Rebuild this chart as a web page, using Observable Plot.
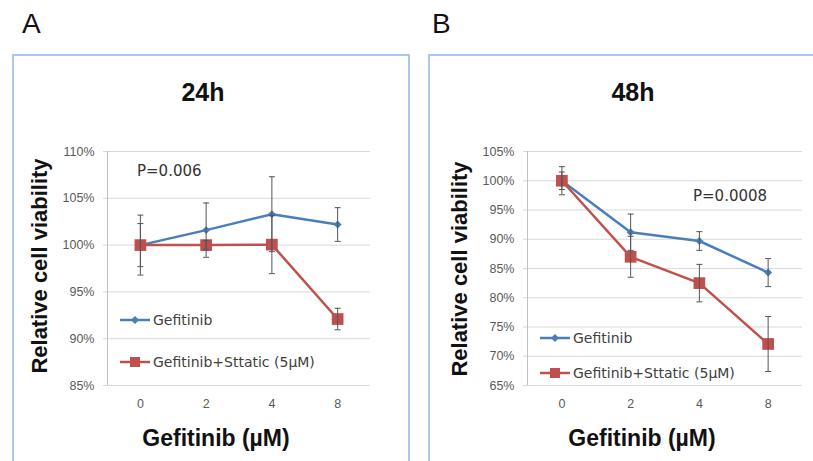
<!DOCTYPE html>
<html><head><meta charset="utf-8">
<script src="https://cdn.jsdelivr.net/npm/d3@7"></script>
<script src="https://cdn.jsdelivr.net/npm/@observablehq/plot@0.6"></script>
<style>
html,body{margin:0;padding:0;background:#fff;}
#wrap{position:relative;width:813px;height:461px;overflow:hidden;background:#fff;}
#wrap svg{position:absolute;top:0;}
</style></head><body><div id="wrap"></div>
<script>
// ---- data ----
const doses = ["0", "2", "4", "8"];
const seriesNames = ["Gefitinib", "Gefitinib+Sttatic (5µM)"];
const gef24 = [100, 101.6, 103.3, 102.2];
const gef24Err = [3.2, 2.9, 4.0, 1.8];
const stt24 = [100, 100, 100.05, 92.1];
const stt24Err = [2.3, 0.5, 3.1, 1.15];
const gef48 = [100, 91.2, 89.7, 84.3];
const gef48Err = [1.5, 3.1, 1.6, 2.4];
const stt48 = [100, 87.0, 82.5, 72.1];
const stt48Err = [2.4, 3.5, 3.2, 4.7];
const ticks24 = [85, 90, 95, 100, 105, 110];
const ticks48 = [65, 70, 75, 80, 85, 90, 95, 100, 105];
const panelTitles = ["24h", "48h"];
const panelLetters = ["A", "B"];
const pValues = ["P=0.006", "P=0.0008"];
const xTitle = "Gefitinib (µM)";
const yTitle = "Relative cell viability";

// ---- style ----
const BLUE = "#4a7ebb", RED = "#c0504d", GRID = "#d9d9d9", AXIS = "#bfbfbf", ERR = "#555555";
const capSymbol = {draw(ctx, size) { const r = Math.sqrt(size / Math.PI); ctx.moveTo(-r, 0); ctx.lineTo(r, 0); }};
const rows = (v, e) => v.map((d, i) => ({i, v: d, lo: d - e[i], hi: d + e[i]}));

function errMarks(data) {
  return [
    Plot.ruleX(data, {x: "i", y1: "lo", y2: "hi", stroke: ERR, strokeWidth: 1}),
    Plot.dot(data, {x: "i", y: "lo", symbol: capSymbol, r: 3, fill: "none", stroke: ERR, strokeWidth: 1}),
    Plot.dot(data, {x: "i", y: "hi", symbol: capSymbol, r: 3, fill: "none", stroke: ERR, strokeWidth: 1})
  ];
}

function chart({width, marginRight, domain, ticks, g, s}) {
  return Plot.plot({
    width, height: 461,
    marginLeft: 107, marginRight, marginTop: 151, marginBottom: 76,
    style: {background: "transparent", fontFamily: "'Liberation Sans', Arial, sans-serif", fontSize: "12.5px", overflow: "visible"},
    x: {domain: [-0.5, 3.5], axis: null},
    y: {domain, axis: null},
    marks: [
      Plot.gridY(ticks, {stroke: GRID, strokeOpacity: 1}),
      Plot.axisY(ticks, {tickSize: 4, tickPadding: 9, stroke: GRID, strokeOpacity: 1, fill: "#595959", tickFormat: d => d + "%", label: null}),
      Plot.ruleX([-0.5], {stroke: AXIS}),
      Plot.axisX([0, 1, 2, 3], {tickSize: 0, tickPadding: 14, tickFormat: i => doses[i], fill: "#595959", label: null}),
      Plot.line(g, {x: "i", y: "v", stroke: BLUE, strokeWidth: 2.5}),
      Plot.line(s, {x: "i", y: "v", stroke: RED, strokeWidth: 2.5}),
      Plot.dot(g, {x: "i", y: "v", symbol: "diamond2", r: 3.6, fill: BLUE, stroke: "none"}),
      Plot.dot(s, {x: "i", y: "v", symbol: "square", r: 6.6, fill: RED, stroke: "none"}),
      ...errMarks(g),
      ...errMarks(s)
    ]
  });
}

const wrap = document.getElementById("wrap");
const left = chart({width: 420, marginRight: 50, domain: [85, 110], ticks: ticks24, g: rows(gef24, gef24Err), s: rows(stt24, stt24Err)});
left.style.left = "0px";
wrap.appendChild(left);
const right = chart({width: 393, marginRight: 11, domain: [65, 105], ticks: ticks48, g: rows(gef48, gef48Err), s: rows(stt48, stt48Err)});
right.style.left = "420px";
wrap.appendChild(right);

// ---- decorations (frames, titles, legends) ----
const ov = d3.select(wrap).append("svg").attr("width", 813).attr("height", 461).style("left", "0px")
  .style("font-family", "'Liberation Sans', Arial, sans-serif");
const layout = [
  {fx: 13, fw: 396, letterX: 22, titleX: 203, pX: 137, pY: 176, xtX: 216, ytX: 47, ytY: 266, lgX: 120, lgY: [320, 362]},
  {fx: 429, fw: 500, letterX: 432, titleX: 633, pX: 693, pY: 201, xtX: 642, ytX: 467, ytY: 269, lgX: 540, lgY: [338, 373]}
];
layout.forEach((L, k) => {
  ov.append("rect").attr("x", L.fx).attr("y", 55).attr("width", L.fw).attr("height", 500)
    .attr("fill", "none").attr("stroke", "#a8c8ec").attr("stroke-width", 2);
  ov.append("text").attr("x", L.letterX).attr("y", 33).attr("font-size", 28).attr("fill", "#111").text(panelLetters[k]);
  ov.append("text").attr("x", L.titleX).attr("y", 101).attr("text-anchor", "middle").attr("font-size", 25)
    .attr("font-weight", "bold").attr("fill", "#111").text(panelTitles[k]);
  ov.append("text").attr("x", L.pX).attr("y", L.pY).attr("font-family", "'DejaVu Sans', sans-serif")
    .attr("font-size", 15).attr("fill", "#333").text(pValues[k]);
  ov.append("text").attr("x", L.xtX).attr("y", 446).attr("text-anchor", "middle").attr("font-size", 23)
    .attr("font-weight", "bold").attr("fill", "#111").text(xTitle);
  ov.append("text").attr("transform", `translate(${L.ytX},${L.ytY}) rotate(-90)`).attr("text-anchor", "middle")
    .attr("font-size", 22).attr("font-weight", "bold").attr("fill", "#111").text(yTitle);
  seriesNames.forEach((name, j) => {
    const y = L.lgY[j], c = j === 0 ? BLUE : RED;
    ov.append("line").attr("x1", L.lgX).attr("x2", L.lgX + 30).attr("y1", y).attr("y2", y)
      .attr("stroke", c).attr("stroke-width", 2.5);
    if (j === 0) ov.append("rect").attr("x", L.lgX + 15 - 2.8).attr("y", y - 2.8).attr("width", 5.6).attr("height", 5.6)
      .attr("fill", c).attr("transform", `rotate(45 ${L.lgX + 15} ${y})`);
    else ov.append("rect").attr("x", L.lgX + 10).attr("y", y - 5).attr("width", 10).attr("height", 10).attr("fill", c);
    ov.append("text").attr("x", L.lgX + 33).attr("y", y + 5).attr("font-family", "'DejaVu Sans', sans-serif")
      .attr("font-size", 14).attr("fill", "#404040").text(name);
  });
});
</script></body></html>
